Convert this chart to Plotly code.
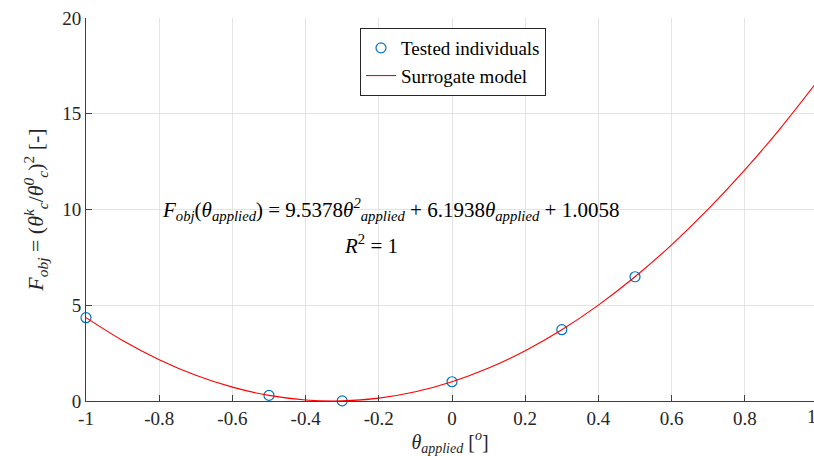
import plotly.graph_objects as go

# Tested individuals
theta_tested = [-1.0, -0.5, -0.3, 0.0, 0.3, 0.5, 1.0]
fobj_tested = [4.35, 0.293, 0.006, 1.006, 3.722, 6.487, 16.737]

# Surrogate model curve
theta_model = [-1.0, -0.9, -0.8, -0.7, -0.6, -0.5, -0.4, -0.3, -0.2, -0.1, 0.0,
               0.1, 0.2, 0.3, 0.4, 0.5, 0.6, 0.7, 0.8, 0.9, 1.0]
fobj_model = [4.350, 3.157, 2.155, 1.344, 0.723, 0.293, 0.054, 0.006, 0.149, 0.482, 1.006,
              1.721, 2.626, 3.722, 5.009, 6.487, 8.156, 10.015, 12.065, 14.306, 16.737]

x_ticks = [-1, -0.8, -0.6, -0.4, -0.2, 0, 0.2, 0.4, 0.6, 0.8, 1]
x_tick_text = ["-1", "-0.8", "-0.6", "-0.4", "-0.2", "0", "0.2", "0.4", "0.6", "0.8", "1"]
y_ticks = [0, 5, 10, 15, 20]

FONT = "Liberation Serif"
W, H = 814, 456
ML, MT, MB, MR = 86, 18, 55, 0
x_lo = -1.0
x_hi = -1.0 + (W - ML) / 366.0  # x=1 falls just beyond the window edge

fig = go.Figure()
fig.add_trace(go.Scatter(
    x=theta_tested, y=fobj_tested, mode="markers", name="Tested individuals",
    marker=dict(symbol="circle-open", size=10, color="#0072BD", line=dict(width=1.2, color="#0072BD")),
    cliponaxis=False,
))
fig.add_trace(go.Scatter(
    x=theta_model, y=fobj_model, mode="lines", name="Surrogate model",
    line=dict(color="#FF0000", width=1.1, shape="spline"),
))

fig.update_layout(
    width=W, height=H,
    margin=dict(l=ML, r=MR, t=MT, b=MB),
    plot_bgcolor="white", paper_bgcolor="white",
    font=dict(family=FONT, size=18, color="#262626"),
    showlegend=True,
    legend=dict(
        x=(360 - ML) / (W - ML - MR), y=(401 - 28) / (H - MT - MB), xanchor="left", yanchor="top",
        bgcolor="white", bordercolor="#262626", borderwidth=1,
        font=dict(family=FONT, size=19, color="#000000"),
        tracegroupgap=0, itemwidth=30,
    ),
    xaxis=dict(
        range=[x_lo, x_hi], tickvals=x_ticks, ticktext=x_tick_text,
        showgrid=True, gridcolor="#E3E3E3", gridwidth=1,
        showline=True, linecolor="#404040", linewidth=1,
        ticks="inside", ticklen=6, tickcolor="#404040",
        zeroline=False, tickfont=dict(family=FONT, size=19, color="#262626"),
        title=dict(text="<i>θ<sub>applied</sub></i> [<i><sup>o</sup></i>]",
                   font=dict(family=FONT, size=20, color="#262626"), standoff=5),
    ),
    yaxis=dict(
        range=[0, 20], tickvals=y_ticks,
        showgrid=True, gridcolor="#E3E3E3", gridwidth=1,
        showline=True, linecolor="#404040", linewidth=1,
        ticks="inside", ticklen=6, tickcolor="#404040",
        zeroline=False, tickfont=dict(family=FONT, size=19, color="#262626"),
        title=dict(text="<i>F<sub>obj</sub></i> = (<i>θ<sup>k</sup><sub>c</sub></i>/<i>θ<sup>0</sup><sub>c</sub></i>)<sup>2</sup> [-]",
                   font=dict(family=FONT, size=22, color="#262626"), standoff=12),
    ),
    annotations=[
        dict(x=(1 - x_lo) / (x_hi - x_lo), y=-0.008, xref="paper", yref="paper",
             text="1", showarrow=False, xanchor="right", xshift=1, yanchor="top",
             font=dict(family=FONT, size=19, color="#262626")),
        dict(x=-0.167, y=10.0, xref="x", yref="y", showarrow=False,
             text="<i>F<sub>obj</sub></i>(<i>θ<sub>applied</sub></i>) = 9.5378<i>θ<sup>2</sup><sub>applied</sub></i> + 6.1938<i>θ<sub>applied</sub></i> + 1.0058",
             font=dict(family=FONT, size=21, color="#000000"), xanchor="center", yanchor="middle"),
        dict(x=-0.221, y=8.15, xref="x", yref="y", showarrow=False,
             text="<i>R</i><sup>2</sup> = 1",
             font=dict(family=FONT, size=21, color="#000000"), xanchor="center", yanchor="middle"),
    ],
)

fig.write_html("out.html")
